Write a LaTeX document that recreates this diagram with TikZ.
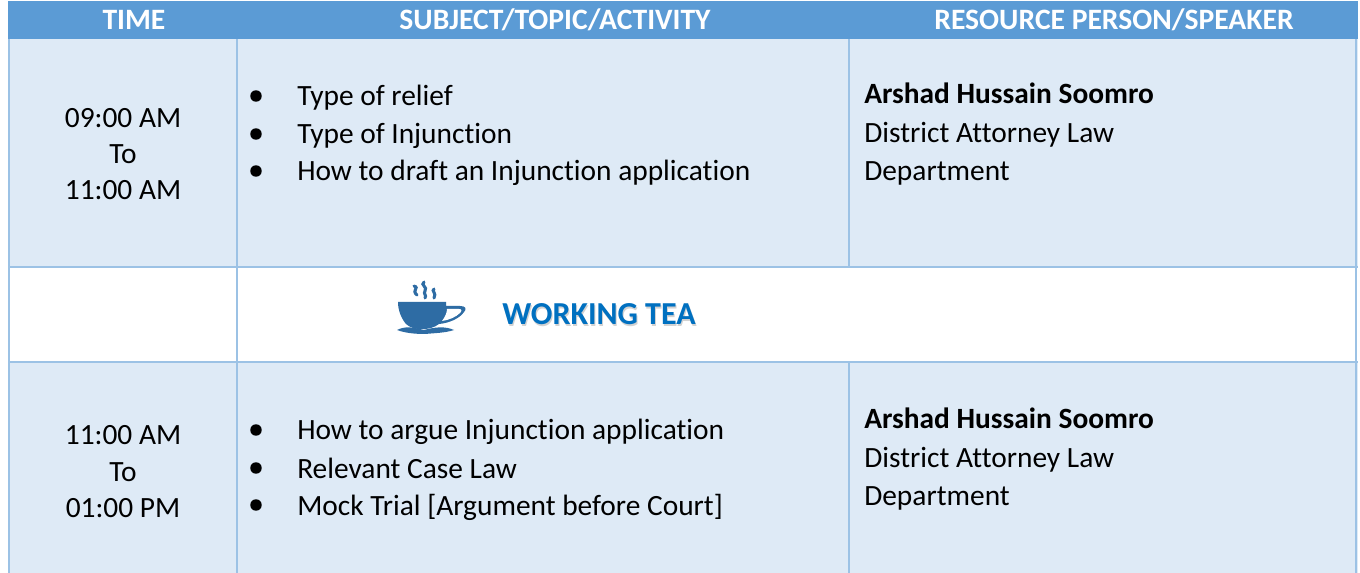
\documentclass[tikz,border=0pt]{standalone}
\usepackage{fontspec}
\setmainfont[Ligatures=CommonOff]{Carlito}
\definecolor{headblue}{HTML}{5B9BD5}
\definecolor{cellblue}{HTML}{DEEAF6}
\definecolor{gridblue}{HTML}{9CC2E5}
\definecolor{teablue}{HTML}{0070C0}
\definecolor{cupblue}{HTML}{2E6CA4}
\newcommand{\bodysize}{\fontsize{22.05}{28}\selectfont}
\tikzset{
  x=0.75pt,y=-0.75pt,
  gridline/.style={draw=gridblue,line width=1.5pt},
  headtext/.style={text=white,font=\fontsize{22.2}{24}\selectfont\bfseries,anchor=base},
  bodytext/.style={text=black,font=\bodysize,anchor=base west,inner sep=0pt},
  timetext/.style={text=black,font=\bodysize,anchor=base,inner sep=0pt},
  bulletdot/.style={fill=black,draw=none,circle,minimum size=8.6pt,inner sep=0pt},
  steam/.style={draw=cupblue,line width=2.3pt,line cap=round},
  teatext/.style={font=\fontsize{24}{26}\selectfont\bfseries,anchor=base west,inner sep=0pt},
}
\begin{document}
\begin{tikzpicture}
\useasboundingbox (0,0) rectangle (1360,573);
\fill[white] (0,0) rectangle (1360,573);
% cell fills
\fill[headblue] (8,1) rectangle (1358,39);
\fill[cellblue] (8,39) rectangle (1358,267);
\fill[cellblue] (8,362) rectangle (1358,573);
% grid
\draw[gridline] (9,39) -- (9,573);
\draw[gridline] (1356,39) -- (1356,573);
\draw[gridline] (237,39) -- (237,573);
\draw[gridline] (849,39) -- (849,267);
\draw[gridline] (849,362) -- (849,573);
\draw[gridline] (8,267) -- (1358,267);
\draw[gridline] (8,362) -- (1358,362);
% header
\node[headtext] (h1) at (134,30) {TIME};
\node[headtext] (h2) at (555,30) {SUBJECT/TOPIC/ACTIVITY};
\node[headtext] (h3) at (1114,30) {RESOURCE PERSON/SPEAKER};
% row 1
\node[timetext] (t1a) at (123,128) {09:00 AM};
\node[timetext] (t1b) at (123,164) {To};
\node[timetext] (t1c) at (123,200) {11:00 AM};
\node[bulletdot] (b1a) at (256,96) {};
\node[bulletdot] (b1b) at (256,134) {};
\node[bulletdot] (b1c) at (256,171) {};
\node[bodytext] (s1a) at (297,106) {Type of relief};
\node[bodytext] (s1b) at (297,144) {Type of Injunction};
\node[bodytext] (s1c) at (297,181) {How to draft an Injunction application};
\node[bodytext] (r1a) at (864,104) {\bfseries Arshad Hussain Soomro};
\node[bodytext] (r1b) at (864,143) {District Attorney Law};
\node[bodytext] (r1c) at (864,181) {Department};
% tea row
\fill[cupblue] (398,302) -- (446,302) -- (446,306)
  -- (460,306) .. controls (466,306) and (467,309) .. (464,312)
  .. controls (460,318) and (450,323) .. (439,324)
  .. controls (430,331) and (413,331) .. (406,324)
  .. controls (401,318) and (398,310) .. (398,302) -- cycle;
\fill[white] (447,309) -- (459,309) .. controls (462,309) and (462,311) .. (460,313)
  .. controls (456,317) and (449,320) .. (442,321)
  .. controls (445,317) and (447,313) .. (447,309) -- cycle;
\fill[cupblue] (397,330) .. controls (405,326) and (412,327) .. (424,330)
  .. controls (435,327) and (445,326) .. (454,330)
  .. controls (445,333) and (435,333) .. (425,334)
  .. controls (415,334) and (405,333) .. (397,330) -- cycle;
\draw[steam] (414,286) .. controls (420,288) and (411,290) .. (417,295);
\draw[steam] (424,282) .. controls (420,285) and (428,287) .. (425,291) .. controls (423,294) and (427,295) .. (425,298);
\draw[steam] (434,289) .. controls (431,291) and (437,293) .. (434,298);
\node[teatext,text=gray!35] (teashadow) at (503,326.5) {WORKING TEA};
\node[teatext,text=teablue] (tea) at (502,325) {WORKING TEA};
% row 2
\node[timetext] (t2a) at (123,445) {11:00 AM};
\node[timetext] (t2b) at (123,481) {To};
\node[timetext] (t2c) at (123,517) {01:00 PM};
\node[bulletdot] (b2a) at (256,430) {};
\node[bulletdot] (b2b) at (256,468) {};
\node[bulletdot] (b2c) at (256,505) {};
\node[bodytext] (s2a) at (297,440) {How to argue Injunction application};
\node[bodytext] (s2b) at (297,478) {Relevant Case Law};
\node[bodytext] (s2c) at (297,515) {Mock Trial [Argument before Court]};
\node[bodytext] (r2a) at (864,429) {\bfseries Arshad Hussain Soomro};
\node[bodytext] (r2b) at (864,467) {District Attorney Law};
\node[bodytext] (r2c) at (864,505) {Department};
\end{tikzpicture}
\end{document}
